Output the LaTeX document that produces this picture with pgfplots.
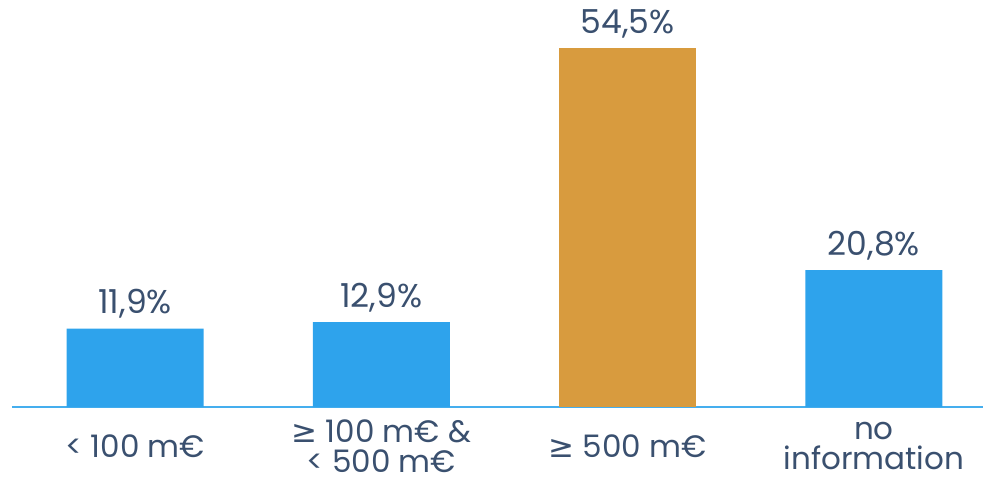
\documentclass[border=0pt]{standalone}
\usepackage{pgfplots}
\pgfplotsset{compat=1.18}
\usepackage{fontspec}
\setmainfont{Poppins}
\newfontfamily\symfont{DejaVu Sans}
\definecolor{barblue}{HTML}{2EA3EC}
\definecolor{bargold}{HTML}{D89B3E}
\definecolor{txt}{HTML}{3A506F}
\definecolor{axisblue}{HTML}{45AEEE}
\begin{document}
\begin{tikzpicture}
\path[use as bounding box] (-12pt,-75pt) rectangle (971pt,407pt);
\begin{axis}[
  scale only axis, width=971pt, height=407pt,
  xmin=-0.5, xmax=3.443, ymin=0, ymax=61.8,
  enlargelimits=false, clip=false,
  axis x line=bottom, axis y line=none,
  axis line style={-, draw=axisblue, line width=2.5pt},
  xtick={0,1,2,3}, major tick length=0pt,
  xticklabels={{< 100 m€},{{\symfont ≥} 100 m€ \&\\< 500 m€},{{\symfont ≥} 500 m€},{no\\information}},
  xticklabel style={align=center, font=\fontsize{31}{30}\selectfont, text=txt, anchor=center, inner sep=0pt, yshift=-39pt},
  /pgf/number format/assume math mode=true,
  nodes near coords={\pgfmathprintnumber[fixed,fixed zerofill,precision=1,use comma]{\pgfplotspointmeta}\%},
  nodes near coords style={font=\fontsize{33}{36}\selectfont, text=txt, inner sep=0pt, anchor=south, yshift=10pt},
  ybar, bar width=137pt,
]
\addplot[bar shift=0pt, fill=barblue, draw=none] coordinates {(0,11.9) (1,12.9) (3,20.8)};
\addplot[bar shift=0pt, fill=bargold, draw=none] coordinates {(2,54.5)};
\end{axis}
\end{tikzpicture}
\end{document}
